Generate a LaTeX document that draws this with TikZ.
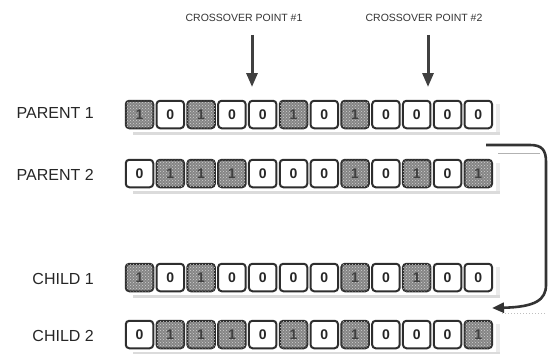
\documentclass[tikz,border=0pt]{standalone}
\usepackage{fontspec}
\setmainfont{Liberation Sans}
\usetikzlibrary{arrows.meta,patterns}
\begin{document}
\begin{tikzpicture}[x=1pt,y=-1pt,
  cellbox/.style={draw=black!82, line width=2pt, rounded corners=3.5pt, minimum width=27.5pt, minimum height=27.5pt, inner sep=0pt, font=\fontsize{14}{14}\selectfont\bfseries},
  bit0/.style={cellbox, fill=white, text=black!85},
  bit1/.style={cellbox, fill=black!48, text=black!75,
    postaction={pattern=crosshatch dots, pattern color=black!18}},
  rowlabel/.style={anchor=east, inner sep=0pt, font=\fontsize{16}{16}\selectfont, text=black!85},
  xlabel/.style={inner sep=0pt, font=\fontsize{10.5}{10.5}\selectfont, text=black!80},
  shadowband/.style={fill=black!14},
  sideshadow/.style={fill=black!8},
  xarrow/.style={line width=3pt, draw=black!75, -{Triangle[length=14pt,width=11pt]}},
  bracket/.style={line width=2.6pt, draw=black!80, -{Triangle[length=12pt,width=10pt]}},
]
\useasboundingbox (0,0) rectangle (548,353);
\newcommand\bitrow[3]{%
  \fill[shadowband] (133,#2+32) rectangle (500,#2+35);
  \fill[sideshadow] (496,#2+4) rectangle (500,#2+32);
  \foreach \b [count=\i] in {#3} {
    \pgfmathsetmacro\cx{125+14.5+(\i-1)*30.8}
    \node[bit\b] (#1-\i) at (\cx,#2+14.5) {\b};
  }
}
% rows
\bitrow{pa}{100}{1,0,1,0,0,1,0,1,0,0,0,0}
\bitrow{pb}{159}{0,1,1,1,0,0,0,1,0,1,0,1}
\bitrow{ca}{263}{1,0,1,0,0,0,0,1,0,1,0,0}
\bitrow{cb}{320}{0,1,1,1,0,1,0,1,0,0,0,1}
% row labels
\node[rowlabel] (lpa) at (94,113) {PARENT 1};
\node[rowlabel] (lpb) at (94,174.5) {PARENT 2};
\node[rowlabel] (lca) at (94,279) {CHILD 1};
\node[rowlabel] (lcb) at (94,336) {CHILD 2};
% crossover points
\node[xlabel] (xa) at (244,18) {CROSSOVER POINT \#1};
\node[xlabel] (xb) at (424,18) {CROSSOVER POINT \#2};
\coordinate (xas) at (252,35);
\coordinate (xae) at (252,87);
\coordinate (xbs) at (428,35);
\coordinate (xbe) at (428,87);
\draw[xarrow] (xas) -- (xae);
\draw[xarrow] (xbs) -- (xbe);
% bracket connector
\coordinate (bs) at (486,145);
\coordinate (be) at (492,308);
\draw[black!30, line width=0.8pt] (498,153) -- (540,153);
\draw[black!25, line width=1pt, dotted] (502,313) -- (546,313);
\draw[bracket] (bs) -- (530,145) .. controls (542,145) and (546,150) .. (546,162)
  -- (546,285) .. controls (546,300) and (535,307) .. (be);
\end{tikzpicture}
\end{document}
